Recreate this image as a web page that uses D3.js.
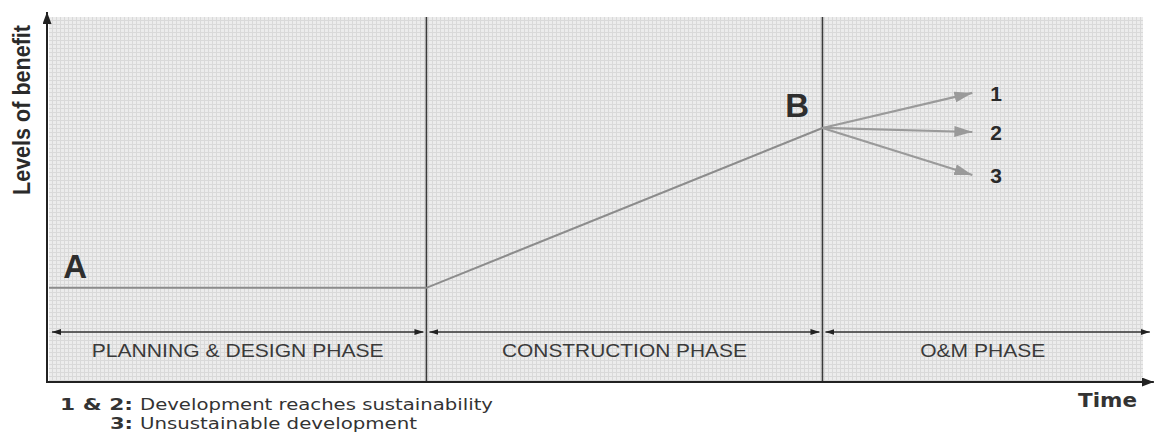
<!DOCTYPE html>
<html>
<head>
<meta charset="utf-8">
<script src="https://cdn.jsdelivr.net/npm/d3@7.9.0/dist/d3.min.js"></script>
<style>
  html, body { margin: 0; padding: 0; background: #fff; }
  svg { display: block; }
</style>
</head>
<body>
<div id="chart"></div>
<script>
// phases along the time axis (time units 0..100)
const phaseNames = ['PLANNING & DESIGN PHASE', 'CONSTRUCTION PHASE', 'O&M PHASE'];
const phaseBounds = [0, 34.5, 70.7, 100.9];

// benefit curve A -> B
const benefitPath = [
    { t: 0, v: 25.8 },
    { t: 34.5, v: 25.8 },
    { t: 70.7, v: 69.6 },
];
const pointLabels = [
    { name: 'A', t: 1.3, v: 28.5 },
    { name: 'B', t: 67.3, v: 72.6 },
];

// three possible outcomes after B
const outcomeIds = ['1', '2', '3'];
const outcomeEnd = [84.4, 84.4, 84.4];
const outcomeLevel = [79.2, 68.5, 56.7];

const legendLines = [
    { key: '1 & 2:', text: 'Development reaches sustainability' },
    { key: '3:', text: 'Unsustainable development' },
];

const width = 1155;
const height = 436;

const plot = { left: 49, right: 1143, top: 17, bottom: 382 };

const xScale = d3.scaleLinear().domain([0, 100]).range([plot.left, plot.right]);
const yScale = d3.scaleLinear().domain([0, 100]).range([plot.bottom, plot.top]);

const svg = d3.select('#chart')
    .append('svg')
    .attr('width', width)
    .attr('height', height);

const defs = svg.append('defs');

// halftone-ish grid texture for the plot background
const pat = defs.append('pattern')
    .attr('id', 'grain')
    .attr('width', 4)
    .attr('height', 4)
    .attr('patternUnits', 'userSpaceOnUse');
pat.append('rect').attr('width', 4).attr('height', 4).attr('fill', '#ececec');
pat.append('path').attr('d', 'M0 0.5H4M0.5 0V4').attr('stroke', '#d9d9d9').attr('stroke-width', 1);

function marker(id, w, h, color) {
    defs.append('marker')
        .attr('id', id)
        .attr('viewBox', `0 0 ${w} ${h}`)
        .attr('refX', w)
        .attr('refY', h / 2)
        .attr('markerWidth', w)
        .attr('markerHeight', h)
        .attr('markerUnits', 'userSpaceOnUse')
        .attr('orient', 'auto-start-reverse')
        .append('path')
        .attr('d', `M0,0L${w},${h / 2}L0,${h}Z`)
        .attr('fill', color);
}
marker('head-grey', 18, 11, '#9a9a9a');
marker('head-small', 9, 6, '#222');
marker('head-axis', 12, 9, '#222');

// background
svg.append('rect')
    .attr('x', plot.left)
    .attr('y', plot.top)
    .attr('width', plot.right - plot.left)
    .attr('height', plot.bottom - plot.top)
    .attr('fill', 'url(#grain)');

// phase dividers
svg.append('g')
    .selectAll('line')
    .data(phaseBounds.slice(1, -1))
    .join('line')
    .attr('x1', (d) => xScale(d))
    .attr('x2', (d) => xScale(d))
    .attr('y1', plot.top)
    .attr('y2', plot.bottom)
    .attr('stroke', '#3a3a3a')
    .attr('stroke-width', 1.6);

// phase double arrows + labels
const phaseArrowLevel = 13.7;
const phaseLabelLevel = 6.8;
const phases = phaseNames.map((name, i) => ({ name, t0: phaseBounds[i], t1: phaseBounds[i + 1] }));

const phaseG = svg.append('g');
phaseG.selectAll('line')
    .data(phases)
    .join('line')
    .attr('x1', (d) => xScale(d.t0) + 3)
    .attr('x2', (d) => xScale(d.t1) - 3)
    .attr('y1', yScale(phaseArrowLevel))
    .attr('y2', yScale(phaseArrowLevel))
    .attr('stroke', '#333')
    .attr('stroke-width', 1.5)
    .attr('marker-start', 'url(#head-small)')
    .attr('marker-end', 'url(#head-small)');

phaseG.selectAll('text')
    .data(phases)
    .join('text')
    .attr('x', (d) => (xScale(d.t0) + Math.min(xScale(d.t1), plot.right)) / 2)
    .attr('y', yScale(phaseLabelLevel))
    .attr('text-anchor', 'middle')
    .attr('font-family', 'Liberation Sans, Arial, sans-serif')
    .attr('font-size', 19)
    .attr('fill', '#3a3a3a')
    .attr('textLength', (d, i) => [292, 245, 125][i])
    .attr('lengthAdjust', 'spacingAndGlyphs')
    .text((d) => d.name);

// benefit line
const line = d3.line().x((d) => xScale(d.t)).y((d) => yScale(d.v));
svg.append('path')
    .datum(benefitPath)
    .attr('d', line)
    .attr('fill', 'none')
    .attr('stroke', '#8c8c8c')
    .attr('stroke-width', 2);

// outcome arrows from B
const start = benefitPath[benefitPath.length - 1];
const outcomes = outcomeIds.map((id, i) => ({ id, t: outcomeEnd[i], v: outcomeLevel[i] }));

svg.append('g')
    .selectAll('line')
    .data(outcomes)
    .join('line')
    .attr('x1', xScale(start.t))
    .attr('y1', yScale(start.v))
    .attr('x2', (d) => xScale(d.t))
    .attr('y2', (d) => yScale(d.v))
    .attr('stroke', '#9a9a9a')
    .attr('stroke-width', 2.2)
    .attr('marker-end', 'url(#head-grey)');

svg.append('g')
    .selectAll('text')
    .data(outcomes)
    .join('text')
    .attr('x', (d) => xScale(d.t) + 18)
    .attr('y', (d) => yScale(d.v) + 8)
    .attr('font-family', 'Liberation Sans, Arial, sans-serif')
    .attr('font-weight', 'bold')
    .attr('font-size', 21)
    .attr('fill', '#2a2a2a')
    .text((d) => d.id);

// A / B labels
svg.append('g')
    .selectAll('text')
    .data(pointLabels)
    .join('text')
    .attr('x', (d) => xScale(d.t))
    .attr('y', (d) => yScale(d.v))
    .attr('font-family', 'Liberation Sans, Arial, sans-serif')
    .attr('font-weight', 'bold')
    .attr('font-size', 33)
    .attr('fill', '#2e2e2e')
    .text((d) => d.name);

// axes
svg.append('line')
    .attr('x1', 47).attr('y1', plot.bottom + 1)
    .attr('x2', 47).attr('y2', 12)
    .attr('stroke', '#222').attr('stroke-width', 2)
    .attr('marker-end', 'url(#head-axis)');
svg.append('line')
    .attr('x1', 46).attr('y1', plot.bottom)
    .attr('x2', xScale(phaseBounds[phaseBounds.length - 1]) + 1).attr('y2', plot.bottom)
    .attr('stroke', '#222').attr('stroke-width', 2)
    .attr('marker-end', 'url(#head-axis)');

// axis titles
svg.append('text')
    .attr('transform', 'translate(30,110) rotate(-90)')
    .attr('text-anchor', 'middle')
    .attr('font-family', 'Liberation Sans Narrow, Arial Narrow, Liberation Sans, sans-serif')
    .attr('font-weight', 'bold')
    .attr('font-size', 23)
    .attr('fill', '#2a2a2a')
    .attr('textLength', 170)
    .attr('lengthAdjust', 'spacingAndGlyphs')
    .text('Levels of benefit');

svg.append('text')
    .attr('x', 1137)
    .attr('y', 407)
    .attr('text-anchor', 'end')
    .attr('font-family', 'DejaVu Sans, Verdana, sans-serif')
    .attr('font-weight', 'bold')
    .attr('font-size', 19)
    .attr('fill', '#333')
    .attr('textLength', 59)
    .attr('lengthAdjust', 'spacingAndGlyphs')
    .text('Time');

// legend notes
const legend = svg.append('g')
    .attr('font-family', 'DejaVu Sans, Verdana, sans-serif')
    .attr('font-size', 16)
    .attr('fill', '#333');

const keyX = [60, 110];
const keyW = [73, 23];
legendLines.forEach((d, i) => {
    const y = 410 + i * 19;
    legend.append('text')
        .attr('x', keyX[i]).attr('y', y)
        .attr('font-weight', 'bold')
        .attr('textLength', keyW[i])
        .attr('lengthAdjust', 'spacingAndGlyphs')
        .text(d.key);
    legend.append('text')
        .attr('x', keyX[i] + keyW[i] + 7).attr('y', y)
        .attr('textLength', i === 0 ? 353 : 277)
        .attr('lengthAdjust', 'spacingAndGlyphs')
        .text(d.text);
});
</script>
</body>
</html>
